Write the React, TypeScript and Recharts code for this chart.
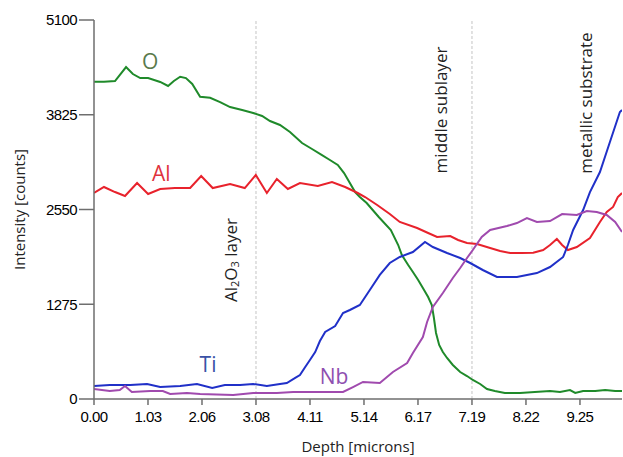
import React from "react";
import {
  LineChart,
  Line,
  XAxis,
  YAxis,
  ReferenceLine,
  ReferenceDot,
} from "recharts";

// ---- data (depth in microns, intensity in counts) ----
const oDepth = [0, 0.19, 0.4, 0.61, 0.74, 0.88, 1.03, 1.26, 1.41, 1.52, 1.64, 1.75, 1.87, 2.02, 2.21, 2.4, 2.59, 2.82, 3.03, 3.2, 3.35, 3.54, 3.73, 3.96, 4.15, 4.34, 4.49, 4.64, 4.76, 4.87, 4.97, 5.06, 5.19, 5.42, 5.65, 5.79, 5.86, 5.98, 6.07, 6.17, 6.26, 6.36, 6.43, 6.47, 6.51, 6.57, 6.64, 6.72, 6.83, 6.97, 7.1, 7.21, 7.35, 7.48, 7.63, 7.82, 8.11, 8.39, 8.68, 8.87, 9.06, 9.16, 9.31, 9.54, 9.73, 9.92, 10.05];
const oValues = [4270, 4270, 4279, 4467, 4373, 4319, 4319, 4266, 4212, 4279, 4337, 4319, 4239, 4068, 4054, 3996, 3929, 3889, 3849, 3808, 3741, 3687, 3593, 3445, 3364, 3283, 3216, 3149, 3041, 2906, 2785, 2718, 2637, 2449, 2274, 2072, 1938, 1803, 1709, 1601, 1494, 1372, 1265, 1090, 888, 727, 632, 552, 458, 363, 309, 256, 202, 135, 108, 81, 81, 94, 108, 94, 121, 81, 108, 108, 121, 108, 108];

const alDepth = [0, 0.19, 0.4, 0.59, 0.82, 1.03, 1.26, 1.54, 1.83, 2.04, 2.26, 2.59, 2.87, 3.08, 3.29, 3.48, 3.69, 3.92, 4.26, 4.53, 4.78, 5.02, 5.16, 5.39, 5.63, 5.82, 6.15, 6.36, 6.53, 6.78, 6.93, 7.1, 7.29, 7.54, 7.73, 7.92, 8.14, 8.36, 8.55, 8.68, 8.81, 8.91, 9.02, 9.19, 9.44, 9.63, 9.76, 9.88, 9.97, 10.05];
const alValues = [2772, 2853, 2785, 2732, 2906, 2758, 2826, 2839, 2839, 3001, 2839, 2893, 2839, 3014, 2772, 2960, 2826, 2906, 2866, 2920, 2853, 2772, 2718, 2610, 2489, 2382, 2301, 2234, 2180, 2193, 2140, 2099, 2086, 2032, 1991, 1965, 1965, 1969, 2005, 2072, 2153, 2072, 2005, 2045, 2166, 2382, 2516, 2584, 2718, 2772];

const tiDepth = [0, 0.3, 0.69, 1.01, 1.26, 1.64, 1.96, 2.25, 2.49, 2.78, 3.03, 3.29, 3.54, 3.67, 3.83, 3.92, 4.02, 4.11, 4.21, 4.3, 4.4, 4.59, 4.74, 4.87, 5.06, 5.25, 5.44, 5.63, 5.82, 6.07, 6.3, 6.45, 6.72, 6.97, 7.16, 7.4, 7.67, 8.05, 8.43, 8.68, 8.93, 9.02, 9.12, 9.31, 9.44, 9.63, 9.82, 10.01, 10.05];
const tiValues = [175, 188, 188, 202, 161, 175, 202, 148, 188, 188, 202, 175, 202, 215, 283, 323, 431, 525, 632, 780, 902, 982, 1157, 1198, 1265, 1467, 1669, 1830, 1911, 1978, 2113, 2045, 1965, 1897, 1830, 1736, 1642, 1642, 1695, 1776, 1911, 2072, 2274, 2543, 2785, 3054, 3458, 3862, 3889];

const nbDepth = [0, 0.3, 0.49, 0.59, 0.72, 1.07, 1.31, 1.45, 1.77, 2.02, 2.65, 3.03, 3.48, 3.79, 4.3, 4.74, 4.93, 5.12, 5.44, 5.69, 5.96, 6.07, 6.26, 6.34, 6.45, 6.64, 6.83, 6.97, 7.1, 7.21, 7.38, 7.54, 7.86, 8.05, 8.24, 8.43, 8.68, 8.91, 9.19, 9.38, 9.57, 9.76, 9.92, 10.05];
const nbValues = [135, 108, 121, 175, 94, 108, 108, 67, 81, 67, 54, 81, 81, 94, 94, 94, 161, 229, 215, 363, 484, 619, 834, 1036, 1238, 1426, 1628, 1763, 1897, 2005, 2180, 2274, 2328, 2368, 2435, 2382, 2395, 2489, 2476, 2530, 2516, 2476, 2382, 2247];

const xTickValues = [0, 1.0278, 2.0556, 3.0833, 4.1111, 5.1389, 6.1667, 7.1944, 8.2222, 9.25];
const yTickValues = [0, 1275, 2550, 3825, 5100];
const layerBoundaries = [3.0833, 7.1944];

const seriesNames = ["O", "Al", "Ti", "Nb"];
const seriesLabelDepth = [1.07, 1.28, 2.17, 4.57];
const seriesLabelValue = [4535, 3028, 457, 296];

const regionNames = ["layer", "middle sublayer", "metallic substrate"];
const regionDepth = [2.58, 6.6, 9.35];
const regionValue = [1870, 3889, 3983];

// ---- styling ----
const lineColors = ["#1f8a2a", "#e8222c", "#2030c8", "#a04aae"];
const labelColors = ["#5a7a4c", "#e0323c", "#3a52a6", "#8e4fb0"];
const FONT = "'Open Sans', sans-serif";
const NUMFONT = "'Liberation Sans', Arial, sans-serif";

const toPoints = (d: number[], v: number[]) => d.map((x, i) => ({ d: x, v: v[i] }));
const series = [
  toPoints(oDepth, oValues),
  toPoints(alDepth, alValues),
  toPoints(tiDepth, tiValues),
  toPoints(nbDepth, nbValues),
];

const RotLabel = (props: any) => {
  const { viewBox, value } = props;
  const cx = viewBox.x + (viewBox.width || 0) / 2;
  const cy = viewBox.y + (viewBox.height || 0) / 2;
  const isAl = value === "layer";
  return (
    <text
      x={cx}
      y={cy}
      transform={`rotate(-90 ${cx} ${cy})`}
      textAnchor="middle"
      dominantBaseline="central"
      fontFamily={FONT}
      fontSize={17}
      fill="#222"
    >
      {isAl ? (
        <>
          <tspan>Al</tspan>
          <tspan dy={4} fontSize={11}>2</tspan>
          <tspan dy={-4}>O</tspan>
          <tspan dy={4} fontSize={11}>3</tspan>
          <tspan dy={-4}> layer</tspan>
        </>
      ) : (
        value
      )}
    </text>
  );
};

export default function App() {
  return (
    <div style={{ position: "absolute", left: 0, top: 0, background: "#fff", fontFamily: FONT }}>
      <LineChart width={623} height={457} margin={{ top: 20, right: 1, bottom: 28, left: 0 }}>
        <XAxis
          xAxisId="top"
          orientation="top"
          type="number"
          domain={[0, 10.05]}
          height={0}
          tick={false}
          tickLine={false}
          axisLine={{ stroke: "#8a8a8a", strokeWidth: 1.5 }}
        />
        <YAxis
          yAxisId="right"
          orientation="right"
          type="number"
          domain={[0, 5100]}
          width={0}
          tick={false}
          tickLine={false}
          axisLine={{ stroke: "#8a8a8a", strokeWidth: 1.5 }}
        />
        <XAxis
          dataKey="d"
          type="number"
          domain={[0, 10.05]}
          allowDataOverflow
          ticks={xTickValues}
          tickFormatter={(v: number) => v.toFixed(2)}
          height={30}
          tickSize={6}
          tickMargin={6}
          axisLine={{ stroke: "#6e6e6e", strokeWidth: 1.5 }}
          tickLine={{ stroke: "#6e6e6e", strokeWidth: 1.5 }}
          tick={{ fill: "#000", fontSize: 15, fontFamily: NUMFONT, letterSpacing: -0.6 }}
          label={{
            value: "Depth [microns]",
            position: "insideBottom",
            offset: -23,
            fill: "#222",
            fontSize: 15,
            fontFamily: FONT,
          }}
        />
        <YAxis
          dataKey="v"
          type="number"
          domain={[0, 5100]}
          ticks={yTickValues}
          width={94}
          tickSize={15}
          tickMargin={2}
          axisLine={{ stroke: "#6e6e6e", strokeWidth: 1.5 }}
          tickLine={{ stroke: "#6e6e6e", strokeWidth: 1.5 }}
          tick={{ fill: "#000", fontSize: 15, fontFamily: NUMFONT, letterSpacing: -0.6 }}
          label={{
            value: "Intensity [counts]",
            angle: -90,
            position: "insideLeft",
            offset: 20,
            fill: "#222",
            fontSize: 15,
            fontFamily: FONT,
            style: { textAnchor: "middle" },
          }}
        />
        {layerBoundaries.map((x) => (
          <ReferenceLine
            key={x}
            x={x}
            stroke="#c4c4c4"
            strokeWidth={1}
            strokeDasharray="3 2"
          />
        ))}
        {series.map((data, i) => (
          <Line
            key={seriesNames[i]}
            data={data}
            dataKey="v"
            name={seriesNames[i]}
            type="linear"
            stroke={lineColors[i]}
            strokeWidth={2}
            dot={false}
            activeDot={false}
            isAnimationActive={false}
          />
        ))}
        {seriesNames.map((n, i) => (
          <ReferenceDot
            key={"lbl" + n}
            x={seriesLabelDepth[i]}
            y={seriesLabelValue[i]}
            r={0}
            stroke="none"
            fill="none"
            label={{
              value: n,
              position: "center",
              fill: labelColors[i],
              fontSize: 21,
              fontFamily: FONT,
            }}
          />
        ))}
        {regionNames.map((n, i) => (
          <ReferenceDot
            key={"reg" + n}
            x={regionDepth[i]}
            y={regionValue[i]}
            r={0}
            stroke="none"
            fill="none"
            label={<RotLabel value={n} />}
          />
        ))}
      </LineChart>
    </div>
  );
}
